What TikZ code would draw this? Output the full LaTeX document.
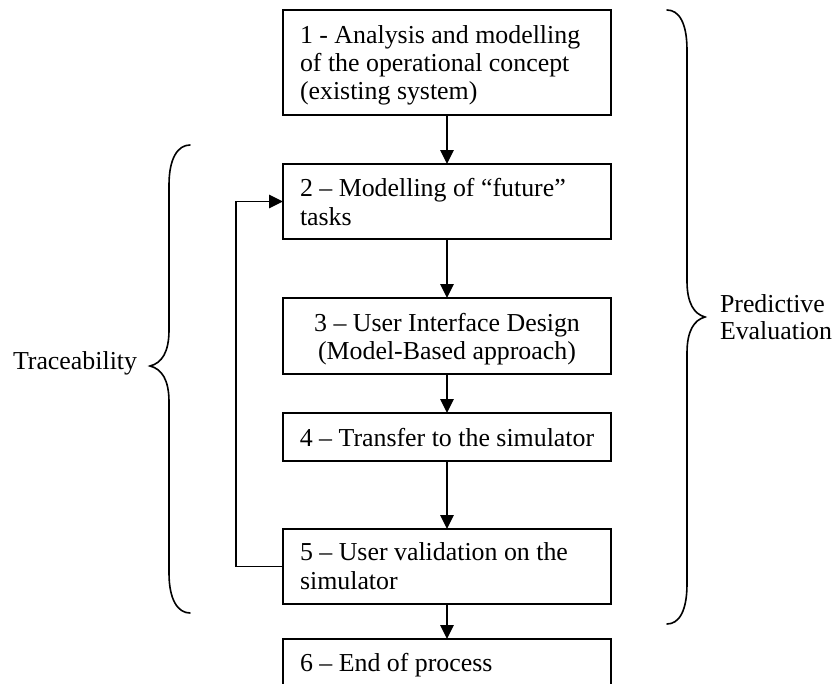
\documentclass[tikz,border=0pt]{standalone}
\usepackage{fontspec}
\setmainfont{Liberation Serif}
\usetikzlibrary{arrows.meta}
\begin{document}
\begin{tikzpicture}[x=0.75pt, y=-0.75pt,
  stepbox/.style={draw, line width=1.3pt, minimum width=246pt, inner sep=0pt, outer sep=0pt},
  lbl/.style={inner sep=0pt, outer sep=0pt, font=\fontsize{19.4}{22}\selectfont},
  flow/.style={line width=1.2pt, -{Triangle[length=10.5pt, width=10pt]}},
  brace/.style={line width=1.2pt, line cap=round}]
\useasboundingbox (0,0) rectangle (833,683);

% process steps
\node[stepbox, minimum height=78.75pt] (s1) at (447,62.5) {};
\node[stepbox, minimum height=56.25pt] (s2) at (447,201.5) {};
\node[stepbox, minimum height=57pt]    (s3) at (447,336) {};
\node[stepbox, minimum height=36pt]    (s4) at (447,437) {};
\node[stepbox, minimum height=56.25pt] (s5) at (447,566.5) {};
\node[stepbox, minimum height=56.25pt] (s6) at (447,676.5) {};

% step texts
\node[lbl, anchor=base west] (t1a) at (300,43) {1 - Analysis and modelling};
\node[lbl, anchor=base west] (t1b) at (300,71) {of the operational concept};
\node[lbl, anchor=base west] (t1c) at (300,99) {(existing system)};
\node[lbl, anchor=base west] (t2a) at (300,196) {2 – Modelling of “future”};
\node[lbl, anchor=base west] (t2b) at (300,225) {tasks};
\node[lbl, anchor=base] (t3a) at (447,331) {3 – User Interface Design};
\node[lbl, anchor=base] (t3b) at (447,359) {(Model-Based approach)};
\node[lbl, anchor=base] (t4) at (447,446) {4 – Transfer to the simulator};
\node[lbl, anchor=base west] (t5a) at (300,560) {5 – User validation on the};
\node[lbl, anchor=base west] (t5b) at (300,589) {simulator};
\node[lbl, anchor=base west] (t6) at (300,671) {6 – End of process};

% main flow
\draw[flow] (s1) -- (s2);
\draw[flow] (s2) -- (s3);
\draw[flow] (s3) -- (s4);
\draw[flow] (s4) -- (s5);
\draw[flow] (s5) -- (s6);

% feedback loop from validation back to task modelling
\coordinate (loop) at (236,400);
\draw[flow] (s5.west) -- (s5.west -| loop) |- (s2.west);

% left brace
\draw[brace] (190,145) .. controls (178,145) and (169,158) .. (169,185)
  -- (169,330) .. controls (169,352) and (162,363) .. (150,366)
  .. controls (162,369) and (169,380) .. (169,402)
  -- (169,573) .. controls (169,600) and (178,613) .. (190,613);
\node[lbl, anchor=base west] (trace) at (13,369) {Traceability};

% right brace
\draw[brace] (667,10) .. controls (679,10) and (687,23) .. (687,50)
  -- (687,281) .. controls (687,303) and (694,314) .. (705,317)
  .. controls (694,320) and (687,331) .. (687,353)
  -- (687,584) .. controls (687,611) and (679,624) .. (667,624);
\node[lbl, anchor=base west] (pred) at (720,312) {Predictive};
\node[lbl, anchor=base west] (eval) at (720,339) {Evaluation};
\end{tikzpicture}
\end{document}
